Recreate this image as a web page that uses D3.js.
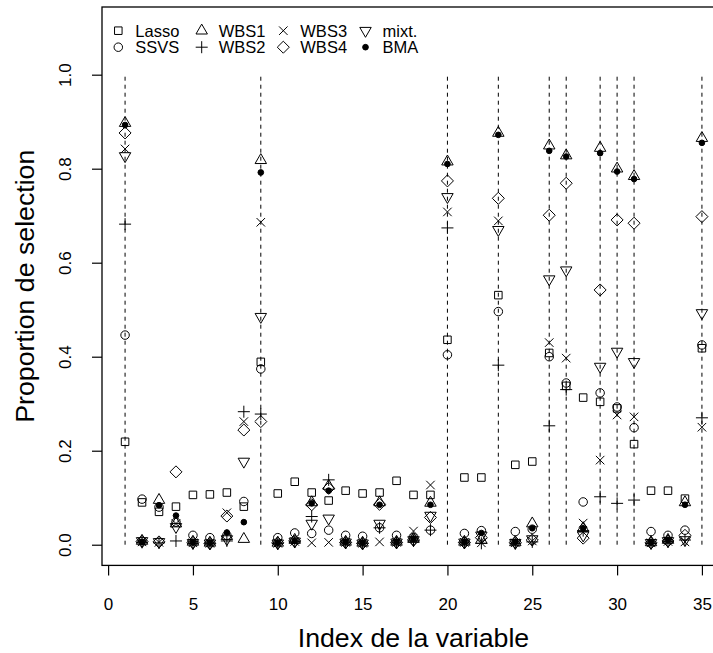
<!DOCTYPE html>
<html>
<head>
<meta charset="utf-8">
<script src="https://cdn.jsdelivr.net/npm/d3@7"></script>
<style>
  body { margin: 0; background: #fff; }
  svg text { font-family: "Liberation Sans", Arial, Helvetica, sans-serif; fill: #000; }
</style>
</head>
<body>
<div id="graph"></div>
<script>
// variable index (x) and the selection proportions of each method
var variables = [1,2,3,4,5,6,7,8,9,10,11,12,13,14,15,16,17,18,19,20,21,22,23,24,25,26,27,28,29,30,31,32,33,34,35];

var lasso = [0.219,0.090,0.070,0.081,0.106,0.107,0.111,0.081,0.389,0.109,0.134,0.111,0.094,0.115,0.109,0.111,0.136,0.106,0.106,0.436,0.143,0.143,0.531,0.170,0.177,0.408,0.338,0.313,0.304,0.290,0.214,0.115,0.115,0.098,0.418];
var ssvs  = [0.446,0.097,0.080,0.048,0.020,0.015,0.020,0.092,0.374,0.015,0.025,0.024,0.031,0.020,0.018,0.036,0.020,0.015,0.031,0.404,0.024,0.030,0.496,0.028,0.033,0.400,0.344,0.091,0.323,0.293,0.249,0.028,0.020,0.031,0.425];
var wbs1  = [0.897,0.008,0.095,0.045,0.006,0.004,0.018,0.012,0.818,0.004,0.010,0.090,0.125,0.006,0.004,0.090,0.006,0.012,0.089,0.815,0.006,0.010,0.876,0.005,0.045,0.849,0.828,0.035,0.844,0.800,0.784,0.005,0.010,0.090,0.865];
var wbs2  = [0.682,0.005,0.004,0.008,0.003,0.002,0.008,0.283,0.278,0.003,0.006,0.060,0.138,0.004,0.003,0.036,0.004,0.008,0.031,0.674,0.004,0.003,0.382,0.003,0.006,0.253,0.330,0.030,0.102,0.088,0.095,0.003,0.006,0.010,0.270];
var wbs3  = [0.842,0.006,0.005,0.045,0.004,0.003,0.068,0.262,0.686,0.003,0.007,0.004,0.005,0.005,0.003,0.006,0.005,0.029,0.127,0.708,0.005,0.004,0.689,0.004,0.008,0.430,0.397,0.046,0.180,0.276,0.272,0.004,0.007,0.006,0.250];
var wbs4  = [0.876,0.007,0.006,0.155,0.005,0.003,0.061,0.244,0.262,0.004,0.008,0.085,0.120,0.005,0.003,0.086,0.005,0.010,0.058,0.774,0.005,0.015,0.737,0.005,0.010,0.701,0.769,0.014,0.542,0.691,0.684,0.004,0.008,0.020,0.698];
var mixt  = [0.827,0.008,0.006,0.038,0.004,0.003,0.012,0.177,0.485,0.003,0.007,0.045,0.056,0.005,0.003,0.045,0.005,0.010,0.062,0.740,0.005,0.020,0.670,0.004,0.012,0.565,0.584,0.020,0.379,0.411,0.389,0.004,0.008,0.010,0.493];
var bma   = [0.893,0.006,0.084,0.062,0.005,0.004,0.026,0.048,0.792,0.004,0.008,0.088,0.115,0.006,0.004,0.085,0.006,0.012,0.085,0.810,0.006,0.025,0.872,0.006,0.035,0.838,0.826,0.035,0.833,0.794,0.778,0.005,0.010,0.085,0.855];

// variables marked with a dashed line
var trueVars = [1,9,20,23,26,27,29,30,31,35];

var xTicks = [0,5,10,15,20,25,30,35];
var yTicks = [0,0.2,0.4,0.6,0.8,1.0];

var methods = [
  {name:"Lasso", pch:"square",  values:lasso},
  {name:"SSVS",  pch:"circle",  values:ssvs},
  {name:"WBS1",  pch:"triUp",   values:wbs1},
  {name:"WBS2",  pch:"plus",    values:wbs2},
  {name:"WBS3",  pch:"cross",   values:wbs3},
  {name:"WBS4",  pch:"diamond", values:wbs4},
  {name:"mixt.", pch:"triDown", values:mixt},
  {name:"BMA",   pch:"dot",     values:bma}
];
// legend reads row by row: Lasso WBS1 WBS3 mixt. / SSVS WBS2 WBS4 BMA
var legendOrder = ["Lasso","WBS1","WBS3","mixt.","SSVS","WBS2","WBS4","BMA"];

var width = 713, height = 653;
var plotLeft = 102, plotRight = 725, plotTop = 7, plotBottom = 565.4;

var chart = d3.select("#graph").append("svg")
    .attr("width", width)
    .attr("height", height);

var xScale = d3.scaleLinear().domain([-0.36, 36.36]).range([plotLeft, plotRight]);
var yScale = d3.scaleLinear().domain([-0.044, 1.144]).range([plotBottom, plotTop]);

// R-like plotting symbols
var R = 4.25;
function symbolPath(type){
  var p = d3.path();
  if (type == "square") {
    var h = R * 0.8862;
    p.rect(-h, -h, 2*h, 2*h);
  } else if (type == "circle") {
    p.arc(0, 0, R, 0, 2*Math.PI); p.closePath();
  } else if (type == "triUp" || type == "triDown") {
    var s = type == "triUp" ? 1 : -1;
    p.moveTo(0, -s*1.5551*R);
    p.lineTo(1.3468*R, s*0.7776*R);
    p.lineTo(-1.3468*R, s*0.7776*R);
    p.closePath();
  } else if (type == "plus") {
    var a = Math.SQRT2*R;
    p.moveTo(-a,0); p.lineTo(a,0); p.moveTo(0,-a); p.lineTo(0,a);
  } else if (type == "cross") {
    p.moveTo(-R,-R); p.lineTo(R,R); p.moveTo(-R,R); p.lineTo(R,-R);
  } else if (type == "diamond") {
    var d = Math.SQRT2*R;
    p.moveTo(0,-d); p.lineTo(d,0); p.lineTo(0,d); p.lineTo(-d,0); p.closePath();
  } else if (type == "dot") {
    p.arc(0, 0, 2.83, 0, 2*Math.PI); p.closePath();
  }
  return p.toString();
}

// box
chart.append("rect")
  .attr("x", plotLeft).attr("y", plotTop)
  .attr("width", plotRight-plotLeft).attr("height", plotBottom-plotTop)
  .style("fill", "none").style("stroke", "#000").style("stroke-width", 1.3);

// x axis
var xAxis = chart.append("g")
  .attr("transform", "translate(0," + plotBottom + ")")
  .call(d3.axisBottom(xScale).tickValues(xTicks).tickSize(10).tickSizeOuter(0));
xAxis.select(".domain").remove();
xAxis.selectAll("line").style("stroke", "#000").style("stroke-width", 1.2);
xAxis.selectAll("text").style("font-size", "17px").attr("dy", null).attr("y", 45);

// y axis, labels rotated as in R
var yAxis = chart.append("g")
  .attr("transform", "translate(" + plotLeft + ",0)")
  .call(d3.axisLeft(yScale).tickValues(yTicks).tickSize(10).tickFormat(d3.format(".1f")));
yAxis.select(".domain").remove();
yAxis.selectAll("line").style("stroke", "#000").style("stroke-width", 1.2);
yAxis.selectAll("text")
  .style("font-size", "17px")
  .attr("text-anchor", "middle")
  .attr("transform", "rotate(-90)")
  .attr("x", 0)
  .attr("y", -31)
  .attr("dy", null);

// axis titles
chart.append("text")
  .attr("x", (plotLeft+plotRight)/2)
  .attr("y", 647)
  .attr("text-anchor", "middle")
  .style("font-size", "26.7px")
  .text("Index de la variable");

chart.append("text")
  .attr("transform", "translate(34," + (plotTop+plotBottom)/2 + ") rotate(-90)")
  .attr("text-anchor", "middle")
  .style("font-size", "26.7px")
  .text("Proportion de selection");

// dashed lines for the selected variables
chart.selectAll(".vline")
  .data(trueVars)
  .enter().append("line")
  .attr("class", "vline")
  .attr("x1", function(d){ return xScale(d); })
  .attr("x2", function(d){ return xScale(d); })
  .attr("y1", yScale(0))
  .attr("y2", yScale(1))
  .style("stroke", "#000")
  .style("stroke-width", 1)
  .style("stroke-dasharray", "4,4");

// points
methods.forEach(function(m){
  chart.append("g").selectAll("path")
    .data(m.values)
    .enter().append("path")
    .attr("d", symbolPath(m.pch))
    .attr("transform", function(d,i){
      return "translate(" + xScale(variables[i]) + "," + yScale(d) + ")";
    })
    .style("fill", m.pch == "dot" ? "#000" : "none")
    .style("stroke", "#000")
    .style("stroke-width", 1);
});

// legend
var colX = [118.3, 201.7, 283.3, 365.5];
var rowY = [30.7, 47.2];
var legend = chart.append("g").selectAll("g")
  .data(legendOrder)
  .enter().append("g")
  .attr("transform", function(d,i){
    return "translate(" + colX[i%4] + "," + rowY[Math.floor(i/4)] + ")";
  });

legend.append("path")
  .attr("d", function(d){
    var m = methods.filter(function(k){ return k.name == d; })[0];
    return symbolPath(m.pch);
  })
  .style("fill", function(d){ return d == "BMA" ? "#000" : "none"; })
  .style("stroke", "#000")
  .style("stroke-width", 1);

legend.append("text")
  .attr("x", 17)
  .attr("y", 6)
  .style("font-size", "16.5px")
  .text(function(d){ return d; });
</script>
</body>
</html>
